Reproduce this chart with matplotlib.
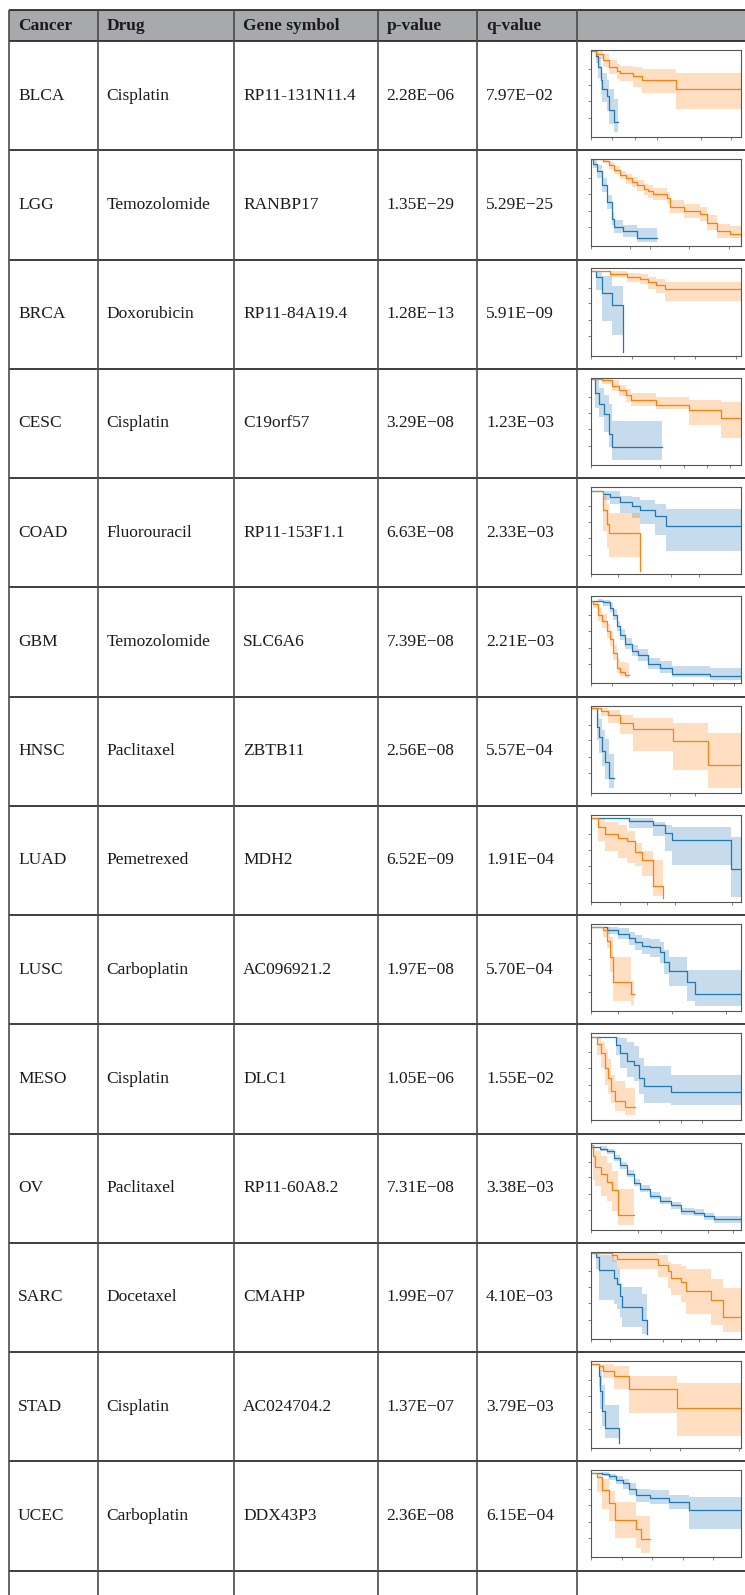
import matplotlib
matplotlib.use("Agg")
import matplotlib.pyplot as plt
from matplotlib.patches import Rectangle

# table contents
CANCERS = ["BLCA", "LGG", "BRCA", "CESC", "COAD", "GBM", "HNSC", "LUAD",
           "LUSC", "MESO", "OV", "SARC", "STAD", "UCEC"]
DRUGS = ["Cisplatin", "Temozolomide", "Doxorubicin", "Cisplatin", "Fluorouracil",
         "Temozolomide", "Paclitaxel", "Pemetrexed", "Carboplatin", "Cisplatin",
         "Paclitaxel", "Docetaxel", "Cisplatin", "Carboplatin"]
GENES = ["RP11-131N11.4", "RANBP17", "RP11-84A19.4", "C19orf57", "RP11-153F1.1",
         "SLC6A6", "ZBTB11", "MDH2", "AC096921.2", "DLC1", "RP11-60A8.2",
         "CMAHP", "AC024704.2", "DDX43P3"]
P_VALUES = ["2.28E\u221206", "1.35E\u221229", "1.28E\u221213", "3.29E\u221208",
            "6.63E\u221208", "7.39E\u221208", "2.56E\u221208", "6.52E\u221209",
            "1.97E\u221208", "1.05E\u221206", "7.31E\u221208", "1.99E\u221207",
            "1.37E\u221207", "2.36E\u221208"]
Q_VALUES = ["7.97E\u221202", "5.29E\u221225", "5.91E\u221209", "1.23E\u221203",
            "2.33E\u221203", "2.21E\u221203", "5.57E\u221204", "1.91E\u221204",
            "5.70E\u221204", "1.55E\u221202", "3.38E\u221203", "4.10E\u221203",
            "3.79E\u221203", "6.15E\u221204"]
HEADERS = ["Cancer", "Drug", "Gene symbol", "p-value", "q-value", ""]

# Kaplan-Meier thumbnails: rows of (time %, survival, lower CI, upper CI)
BLCA_BLUE = [(0, .985, .985, .985), (3, .93, .85, .985), (4.5, .81, .68, .92),
             (6.5, .66, .5, .82), (7.5, .55, .4, .73), (10.5, .47, .3, .66),
             (12, .31, .15, .55), (15, .17, .06, .44), (18, .17, .06, .44)]
BLCA_ORANGE = [(0, .985, .985, .985), (3, .95, .9, .985), (8, .88, .8, .95),
               (12, .8, .72, .88), (17, .76, .67, .84), (19, .74, .64, .82),
               (28, .7, .58, .8), (34, .65, .51, .78), (56.5, .55, .32, .74),
               (100, .55, .32, .74)]
LGG_BLUE = [(0, 1, 1, 1), (1.6, .95, .9, 1), (3.8, .86, .79, .93), (7, .7, .62, .78),
            (10.5, .51, .43, .59), (13.8, .31, .24, .39), (15, .22, .15, .3),
            (21.6, .17, .11, .25), (30.5, .1, .05, .21), (43.9, .1, .05, .21)]
LGG_ORANGE = [(0, 1, 1, 1), (8, .98, .96, 1), (12, .93, .89, .97), (15.5, .88, .83, .92),
              (19, .82, .77, .87), (23, .78, .72, .83), (27, .74, .68, .8),
              (30.5, .7, .64, .76), (35, .66, .59, .72), (38, .63, .56, .7),
              (41.6, .6, .53, .67), (50.6, .55, .48, .62), (52.8, .45, .38, .53),
              (61.7, .41, .33, .49), (72.8, .37, .29, .45), (77, .27, .19, .36),
              (84, .17, .1, .26), (92.9, .14, .09, .23), (100, .14, .09, .23)]
BRCA_BLUE = [(0, .97, .97, .97), (3.3, .9, .75, .97), (7.6, .72, .4, .91),
             (13.8, .58, .24, .8), (21.6, .04, .04, .04)]
BRCA_ORANGE = [(0, .97, .97, .97), (12.7, .94, .9, .97), (23.8, .9, .85, .95),
               (32.7, .88, .82, .94), (38.3, .84, .76, .9), (43.4, .81, .72, .88),
               (49.4, .76, .63, .84), (100, .76, .63, .84)]
CESC_BLUE = [(0, .99, .99, .99), (2.7, .82, .65, .97), (5.4, .7, .55, .88),
             (8.7, .58, .38, .8), (11.7, .35, .2, .7), (14.3, .2, .06, .5),
             (47.5, .2, .06, .5)]
CESC_ORANGE = [(0, .99, .99, .99), (7.6, .97, .93, .99), (14.3, .91, .85, .97),
               (18.8, .86, .79, .92), (23.3, .8, .72, .87), (26.7, .74, .68, .82),
               (43.5, .69, .64, .78), (65.5, .63, .46, .74), (86.5, .54, .31, .72),
               (100, .54, .31, .72)]
COAD_BLUE = [(0, .95, .95, .95), (7.8, .92, .85, .95), (12.8, .89, .8, .95),
             (19.5, .83, .7, .9), (27.3, .78, .64, .88), (32.9, .74, .58, .85),
             (42.9, .67, .45, .8), (49.7, .55, .26, .75), (100, .55, .26, .75)]
COAD_ORANGE = [(0, .95, .95, .95), (7.8, .74, .5, .9), (10.5, .58, .3, .8),
               (12.3, .47, .19, .7), (32.9, .04, .04, .04)]
GBM_BLUE = [(0, .95, .95, .95), (4.9, .95, .93, .97), (8.2, .93, .89, .96),
            (12.7, .87, .82, .92), (14.9, .79, .73, .85), (17.1, .66, .6, .72),
            (19.4, .56, .5, .62), (22.7, .45, .39, .52), (27.2, .37, .31, .44),
            (31.6, .32, .26, .39), (38.3, .22, .16, .29), (46.1, .18, .12, .25),
            (53.9, .11, .07, .2), (79.5, .08, .04, .18), (100, .08, .04, .18)]
GBM_ORANGE = [(0, .95, .95, .95), (1.6, .91, .86, .95), (4.9, .79, .72, .86),
              (7.1, .72, .64, .8), (10.5, .6, .52, .68), (12.7, .51, .43, .6),
              (14.9, .35, .27, .44), (17.1, .18, .12, .28), (19.4, .13, .08, .24),
              (22.7, .09, .06, .23), (25.6, .09, .06, .23)]
HNSC_BLUE = [(0, .97, .97, .97), (4, .75, .6, .9), (5.6, .64, .45, .85),
             (7.4, .48, .3, .72), (9.4, .35, .15, .62), (11.9, .17, .05, .44),
             (15.3, .17, .05, .44)]
HNSC_ORANGE = [(0, .97, .97, .97), (6.7, .94, .88, .97), (11.2, .89, .8, .95),
               (19.1, .8, .67, .89), (28.1, .73, .48, .86), (54.6, .59, .26, .8),
               (78, .32, .05, .68), (100, .32, .05, .68)]
LUAD_BLUE = [(0, .96, .96, .96), (25, .93, .85, .96), (41.4, .88, .76, .92),
             (49.2, .79, .58, .88), (53.7, .71, .42, .86), (93.5, .38, .05, .75),
             (100, .38, .05, .75)]
LUAD_ORANGE = [(0, .96, .96, .96), (4.9, .86, .7, .96), (9.4, .78, .58, .92),
               (18.3, .73, .5, .88), (23.9, .7, .45, .81), (29.5, .57, .41, .68),
               (34, .48, .3, .58), (41.2, .18, .07, .48), (47.9, .04, .04, .04)]
LUSC_BLUE = [(0, .97, .97, .97), (10.5, .93, .88, .97), (18.3, .89, .83, .95),
             (25.1, .84, .76, .91), (29.5, .79, .7, .87), (34, .75, .65, .84),
             (39.6, .73, .62, .83), (46.3, .68, .55, .79), (48.5, .56, .42, .7),
             (51.9, .46, .29, .62), (64.2, .33, .12, .47), (69.1, .19, .06, .47),
             (100, .19, .06, .47)]
LUSC_ORANGE = [(0, .97, .97, .97), (8.3, .93, .85, .97), (10.5, .81, .72, .97),
               (12.8, .62, .45, .85), (14.5, .33, .12, .62), (26.6, .19, .07, .35),
               (28.4, .19, .07, .35)]
MESO_BLUE = [(0, .955, .955, .955), (16.8, .86, .75, .955), (19.5, .77, .6, .95),
             (23.9, .68, .5, .9), (28.4, .64, .45, .85), (31.8, .49, .3, .71),
             (35.6, .39, .2, .62), (53, .33, .17, .52), (100, .33, .17, .52)]
MESO_ORANGE = [(0, .955, .955, .955), (3.8, .88, .75, .955), (6.5, .77, .6, .9),
               (9.4, .6, .41, .82), (11, .49, .3, .7), (13.2, .34, .2, .52),
               (16.1, .22, .11, .45), (22.8, .15, .06, .37), (29.5, .15, .06, .37)]
OV_BLUE = [(0, .95, .95, .95), (6, .93, .9, .96), (10.5, .9, .87, .93),
           (15, .82, .79, .86), (19.5, .74, .7, .78), (23.9, .64, .6, .68),
           (28.4, .54, .5, .58), (32.9, .47, .43, .51), (39.6, .39, .35, .43),
           (46.3, .33, .29, .37), (53, .28, .24, .32), (59.7, .21, .17, .25),
           (68.7, .19, .15, .23), (75.4, .15, .11, .19), (82.1, .12, .08, .16),
           (91.1, .12, .07, .16), (100, .12, .07, .16)]
OV_ORANGE = [(0, .97, .97, .97), (1.1, .84, .57, .97), (2.7, .72, .5, .9),
             (6.5, .64, .39, .84), (10.5, .55, .33, .77), (13.9, .45, .21, .67),
             (17.9, .17, .05, .47), (28.9, .17, .05, .47)]
SARC_BLUE = [(0, .99, .99, .99), (3.4, .94, .8, .99), (5.6, .79, .44, .96),
             (15.1, .7, .4, .9), (17.1, .63, .34, .8), (19.6, .49, .25, .64),
             (20.7, .37, .13, .6), (34.2, .21, .05, .51), (37.2, .05, .05, .05)]
SARC_ORANGE = [(0, .99, .99, .99), (14, .96, .88, .99), (17.1, .92, .8, .99),
               (44.8, .85, .71, .96), (51.1, .78, .58, .88), (53.4, .7, .5, .86),
               (60.1, .65, .42, .84), (63.5, .55, .28, .8), (80, .44, .16, .69),
               (88.3, .25, .08, .58), (100, .25, .08, .58)]
STAD_BLUE = [(0, .96, .96, .96), (5, .83, .7, .96), (6.1, .66, .45, .9),
             (7.2, .42, .25, .72), (9, .23, .11, .49), (18.5, .06, .06, .06)]
STAD_ORANGE = [(0, .96, .96, .96), (5, .94, .88, .96), (8.3, .89, .8, .96),
               (15.1, .83, .68, .94), (25.2, .68, .4, .83), (57.4, .46, .14, .75),
               (100, .46, .14, .75)]
UCEC_BLUE = [(0, .97, .97, .97), (7.6, .96, .93, .98), (12.1, .93, .89, .96),
             (16.6, .89, .84, .93), (21.1, .85, .79, .9), (25.6, .79, .72, .85),
             (30, .71, .63, .79), (39, .68, .61, .77), (52, .64, .55, .71),
             (65.5, .54, .33, .69), (100, .54, .33, .69)]
UCEC_ORANGE = [(0, .97, .97, .97), (4.3, .92, .75, .97), (7.6, .77, .55, .9),
               (11.7, .62, .42, .76), (16.1, .43, .22, .64), (30, .32, .11, .47),
               (33.4, .21, .05, .47), (39, .21, .05, .47)]

X_TICKS = [[0, 14, 29, 44, 73, 93.5], [0, 26, 39.5, 65.5, 91.8],
           [0, 27.6, 55.5, 69, 96.7], [0, 45.7, 62, 77, 92.8], [0, 18.3, 53, 72],
           [0, 13.8, 53.9, 67.9, 81.3, 95.1], [0, 52.4, 69],
           [0, 19, 37.4, 55.9, 93.7], [0, 18.3, 54.1, 89.9], [0, 45.2, 59.7, 74.3],
           [0, 31.1, 46.8, 78, 94.9], [0, 12.4, 47.7, 59.7, 71.8, 83.1],
           [0, 39.2, 59, 98.4], [0, 20.6, 40.8, 61.4, 81.6]]
Y_TICKS = [0.22, 0.41, 0.6, 0.78]

CURVES = [(BLCA_BLUE, BLCA_ORANGE), (LGG_BLUE, LGG_ORANGE), (BRCA_BLUE, BRCA_ORANGE),
          (CESC_BLUE, CESC_ORANGE), (COAD_BLUE, COAD_ORANGE), (GBM_BLUE, GBM_ORANGE),
          (HNSC_BLUE, HNSC_ORANGE), (LUAD_BLUE, LUAD_ORANGE), (LUSC_BLUE, LUSC_ORANGE),
          (MESO_BLUE, MESO_ORANGE), (OV_BLUE, OV_ORANGE), (SARC_BLUE, SARC_ORANGE),
          (STAD_BLUE, STAD_ORANGE), (UCEC_BLUE, UCEC_ORANGE)]

# page geometry in pixels
W, H = 745, 1595
COL_X = [9, 97.5, 234, 377.5, 477, 577]
HEAD_TOP, HEAD_BOT = 10, 41
ROW_H = 109.25
PAD = 9
FONT = "Liberation Serif"
FS = 12.5

fig = plt.figure(figsize=(W / 100, H / 100), dpi=100)
base = fig.add_axes([0, 0, 1, 1])
base.set_xlim(0, W)
base.set_ylim(H, 0)
base.axis("off")

base.add_patch(Rectangle((COL_X[0], HEAD_TOP), W - COL_X[0], HEAD_BOT - HEAD_TOP,
                         facecolor="#a8a9ad", edgecolor="none", zorder=0))

n = len(CANCERS)
row_lines = [HEAD_TOP, HEAD_BOT] + [HEAD_BOT + ROW_H * (k + 1) for k in range(n)]
for y in row_lines:
    base.plot([COL_X[0], W], [y, y], color="#1e1e1e", lw=1.2, solid_capstyle="butt")
for x in COL_X:
    base.plot([x, x], [HEAD_TOP, H], color="#4a4a4a", lw=1.2, solid_capstyle="butt")

for x, label in zip(COL_X, HEADERS):
    base.text(x + PAD, (HEAD_TOP + HEAD_BOT) / 2 + 1, label, family=FONT,
              fontsize=FS, fontweight="bold", va="center", ha="left", color="#1a1a1a")

for k in range(n):
    yc = HEAD_BOT + ROW_H * (k + 0.5)
    cells = [CANCERS[k], DRUGS[k], GENES[k], P_VALUES[k], Q_VALUES[k]]
    for x, s in zip(COL_X, cells):
        base.text(x + PAD, yc, s, family=FONT, fontsize=FS, va="center",
                  ha="left", color="#1a1a1a")


def km(ax, rows, color):
    t = [r[0] for r in rows]
    s = [r[1] for r in rows]
    lo = [r[2] for r in rows]
    hi = [r[3] for r in rows]
    ax.fill_between(t, lo, hi, step="post", color=color, alpha=0.25, lw=0)
    ax.step(t, s, where="post", color=color, lw=0.9)


AX_LEFT, AX_W, AX_H = 591, 150, 87
for k, (blue, orange) in enumerate(CURVES):
    top = HEAD_BOT + ROW_H * k + 9
    ax = fig.add_axes([AX_LEFT / W, 1 - (top + AX_H) / H, AX_W / W, AX_H / H])
    km(ax, blue, "#1f77b4")
    km(ax, orange, "#ff7f0e")
    ax.set_xlim(0, 100)
    ax.set_ylim(0, 1)
    ax.set_xticks(X_TICKS[k])
    ax.set_yticks(Y_TICKS)
    ax.set_xticklabels([])
    ax.set_yticklabels([])
    ax.tick_params(direction="out", length=2.5, width=0.5, color="#555555")
    for sp in ax.spines.values():
        sp.set_color("#555555")
        sp.set_linewidth(0.8)

fig.savefig("out.png", dpi=100)
